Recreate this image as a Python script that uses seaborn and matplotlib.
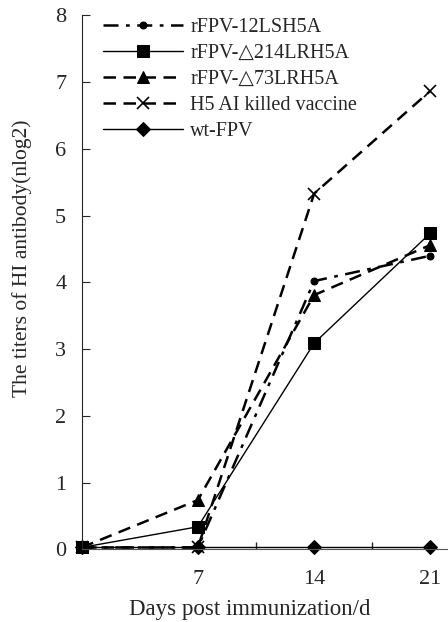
import numpy as np
import pandas as pd
import matplotlib
matplotlib.use("Agg")
import matplotlib.pyplot as plt
import seaborn as sns

# Datos (títulos HI, nlog2)
DAYS = [0, 7, 14, 21]
SERIES = ['rFPV-12LSH5A', 'rFPV-\u25b3214LRH5A', 'rFPV-\u25b373LRH5A',
          'H5 AI killed vaccine', 'wt-FPV']
V_12LSH5A = [0.03, 0.03, 4.02, 4.40]
V_214LRH5A = [0.03, 0.34, 3.09, 4.74]
V_73LRH5A = [0.03, 0.74, 3.81, 4.56]
V_H5_AI = [0.03, 0.03, 5.33, 6.87]
V_WT = [0.03, 0.03, 0.03, 0.03]
VALORES = [V_12LSH5A, V_214LRH5A, V_73LRH5A, V_H5_AI, V_WT]

X_TICKS = [7, 14, 21]
X_MINOR = [10.5, 17.5]
Y_TICKS = list(range(0, 9))

ESTILOS = [
    dict(linestyle=(0, (6, 3, 1.5, 3)), lw=1.8, marker='o', ms=5),
    dict(linestyle='-', lw=1.0, marker='s', ms=8),
    dict(linestyle=(0, (5, 3)), lw=1.8, marker='^', ms=9),
    dict(linestyle=(0, (5, 3)), lw=1.8, marker='x', ms=9, mew=1.2),
    dict(linestyle='-', lw=1.0, marker='D', ms=7),
]

sns.set_style('ticks')
plt.rcParams['font.family'] = ['Liberation Serif', 'DejaVu Serif']

df = pd.DataFrame({
    'day': DAYS * len(SERIES),
    'titer': sum(VALORES, []),
    'grupo': np.repeat(SERIES, len(DAYS)),
})

fig = plt.figure(figsize=(4.48, 6.22), dpi=100)
ax = fig.add_axes([0.182, 0.1166, 0.816, 0.8588])

for nombre, est in zip(SERIES, ESTILOS):
    sub = df[df['grupo'] == nombre]
    sns.lineplot(data=sub, x='day', y='titer', ax=ax, color='black',
                 label=nombre, clip_on=False, markeredgecolor='black', **est)

ax.set_xlim(0, 22)
ax.set_ylim(0, 8)
ax.set_xticks(X_TICKS)
ax.set_xticks(X_MINOR, minor=True)
ax.set_yticks(Y_TICKS)
ax.tick_params(axis='x', which='major', length=0, pad=15, labelsize=16)
ax.tick_params(axis='x', which='minor', direction='in', length=5, width=1)
ax.tick_params(axis='y', direction='in', length=6, pad=11, labelsize=16)
for s in ['top', 'right']:
    ax.spines[s].set_visible(False)
ax.spines['bottom'].set_color('#555555')

ax.set_xlabel('Days post immunization/d', fontsize=16.5)
ax.set_ylabel('The titers of HI antibody(nlog2)', fontsize=15.5)
ax.xaxis.set_label_coords(0.46, -0.093)
ax.yaxis.set_label_coords(-0.136, 0.546)

ax.legend(loc='upper left', bbox_to_anchor=(0.058, 0.995), frameon=False,
          fontsize=14.5, handlelength=4.0, handletextpad=0.35,
          labelspacing=0.34, borderaxespad=0, borderpad=0)

fig.savefig('out.png', dpi=100)
plt.close(fig)
